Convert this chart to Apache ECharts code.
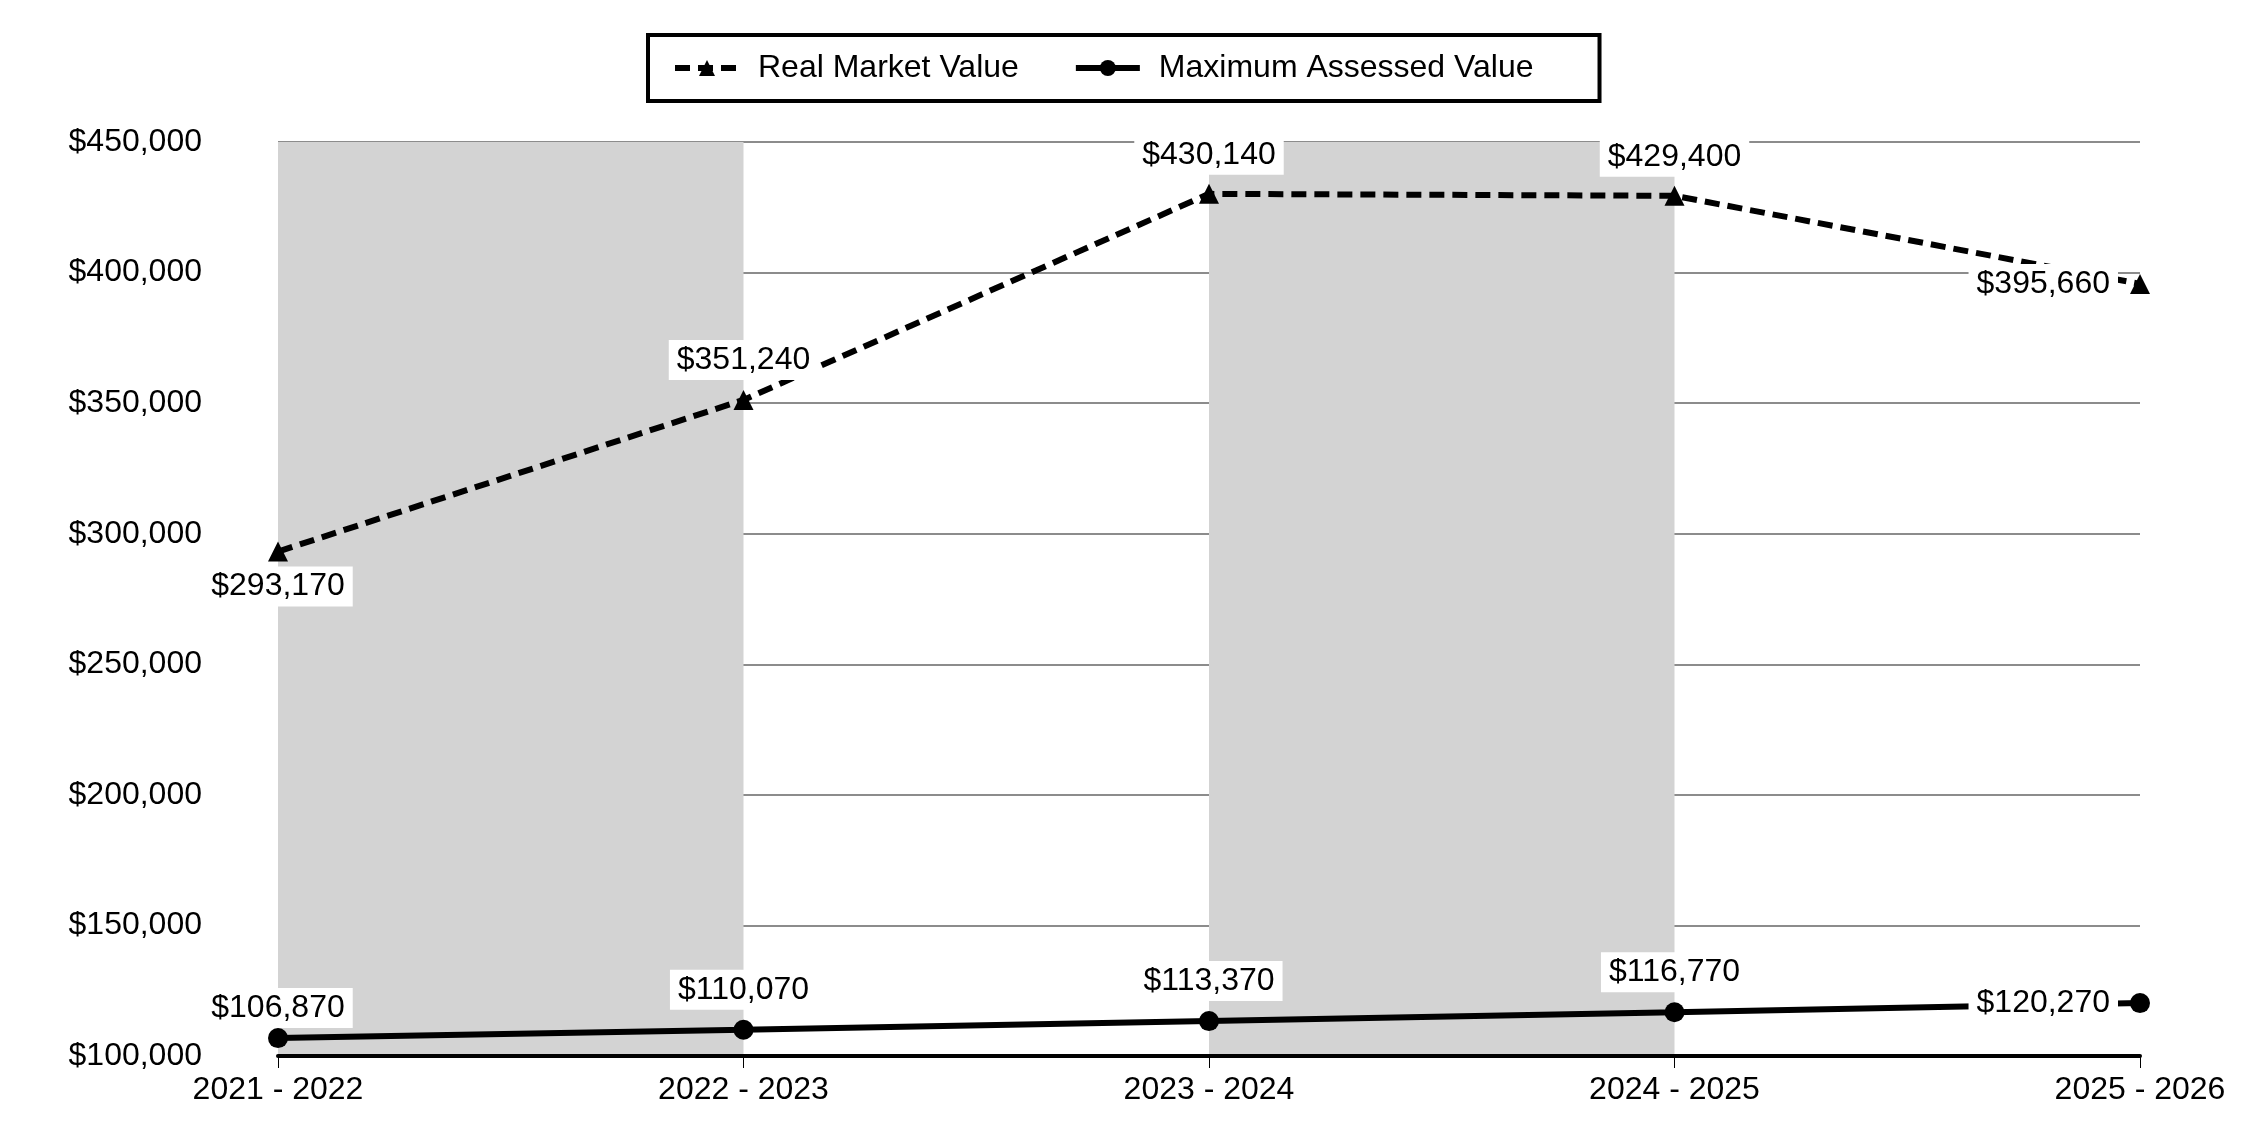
<!DOCTYPE html>
<html>
<head>
<meta charset="utf-8">
<script src="https://cdn.jsdelivr.net/npm/echarts@6/dist/echarts.min.js"></script>
<style>
html,body{margin:0;padding:0;background:#fff;}
#chart{width:2250px;height:1140px;}
</style>
</head>
<body>
<div id="chart"></div>
<script>
const categories = ['2021 - 2022', '2022 - 2023', '2023 - 2024', '2024 - 2025', '2025 - 2026'];
const realMarketValue = [293170, 351240, 430140, 429400, 395660];
const maxAssessedValue = [106870, 110070, 113370, 116770, 120270];
const yTicks = { min: 100000, max: 450000, interval: 50000 };

const FONT = '"Liberation Sans", Arial, sans-serif';
const fmt = v => '$' + v.toLocaleString('en-US');

const rmvLabelPos = ['bottom', 'top', 'top', 'top', 'left'];
const mavLabelPos = ['top', 'top', 'top', 'top', 'left'];
const rmvLabelDist = [5, 10, 9, 9, 12];
const mavLabelDist = [0, 10, 10, 10, 12];

const baseLabel = {
  show: true,
  color: '#000',
  fontSize: 32,
  fontFamily: FONT,
  backgroundColor: '#fff',
  padding: [4, 8, 4, 8],
  formatter: p => fmt(p.value)
};

function buildData(values, pos, dist) {
  return values.map((v, i) => ({
    value: v,
    label: Object.assign({}, baseLabel, { position: pos[i], distance: dist[i] })
  }));
}

const chart = echarts.init(document.getElementById('chart'));
chart.setOption({
  animation: false,
  backgroundColor: '#fff',
  textStyle: { fontFamily: FONT },
  legend: {
    left: 648,
    top: 35,
    padding: [17, 66, 17, 24],
    borderColor: '#000',
    borderWidth: 4,
    itemWidth: 64,
    itemHeight: 20,
    itemGap: 54,
    lineStyle: { width: 6 },
    textStyle: { fontSize: 32, color: '#000', fontFamily: FONT, padding: [0, 0, 0, 14] },
    data: ['Real Market Value', 'Maximum Assessed Value']
  },
  grid: { left: 278, right: 110, top: 142, bottom: 84, containLabel: false },
  xAxis: {
    type: 'category',
    data: categories,
    boundaryGap: false,
    axisLine: { show: true, lineStyle: { color: '#000', width: 4 } },
    axisTick: { show: true, length: 12, lineStyle: { color: '#000', width: 1 } },
    axisLabel: { color: '#000', fontSize: 32, fontFamily: FONT, margin: 18 },
    splitLine: { show: false },
    splitArea: { show: true, areaStyle: { color: ['#d3d3d3', 'rgba(255,255,255,0)'] } }
  },
  yAxis: {
    type: 'value',
    min: yTicks.min,
    max: yTicks.max,
    interval: yTicks.interval,
    axisLine: { show: false },
    axisTick: { show: false },
    axisLabel: { color: '#000', fontSize: 32, fontFamily: FONT, margin: 76, formatter: v => fmt(v) },
    splitLine: { show: true, lineStyle: { color: '#8c8c8c', width: 2 } }
  },
  series: [
    {
      name: 'Real Market Value',
      type: 'line',
      data: buildData(realMarketValue, rmvLabelPos, rmvLabelDist),
      symbol: 'triangle',
      symbolSize: 20,
      showAllSymbol: true,
      itemStyle: { color: '#000' },
      lineStyle: { color: '#000', width: 6, type: [15, 8] },
      z: 3
    },
    {
      name: 'Maximum Assessed Value',
      type: 'line',
      data: buildData(maxAssessedValue, mavLabelPos, mavLabelDist),
      symbol: 'circle',
      symbolSize: 20,
      showAllSymbol: true,
      itemStyle: { color: '#000' },
      lineStyle: { color: '#000', width: 6, type: 'solid' },
      z: 3
    }
  ]
});
</script>
</body>
</html>
